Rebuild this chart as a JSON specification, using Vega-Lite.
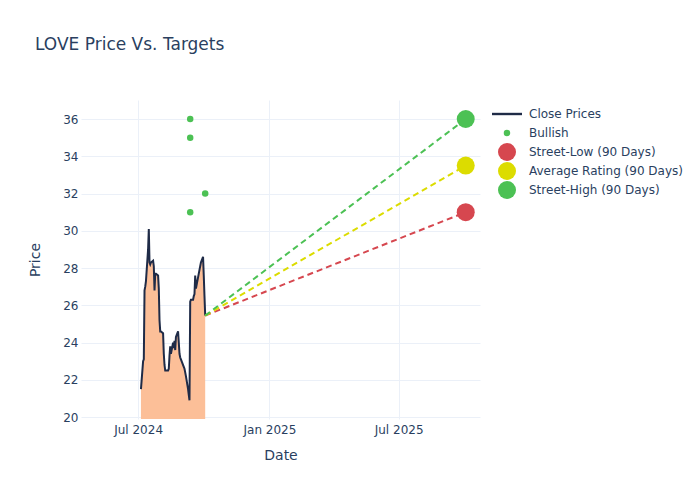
{
  "$schema": "https://vega.github.io/schema/vega-lite/v6.json",
  "width": 399,
  "height": 319,
  "autosize": {"type": "none"},
  "padding": {"left": 81, "top": 100, "right": 220, "bottom": 81},
  "background": "white",
  "title": {
    "text": "LOVE Price Vs. Targets",
    "anchor": "start",
    "frame": "group",
    "dx": -46,
    "offset": 46,
    "font": "DejaVu Sans",
    "fontSize": 17,
    "fontWeight": "normal",
    "color": "#2a3f5f"
  },
  "config": {
    "view": {"stroke": null},
    "axis": {
      "gridColor": "#ebf0f8",
      "gridWidth": 1,
      "domain": false,
      "ticks": false,
      "tickSize": 0,
      "labelFont": "DejaVu Sans",
      "labelFontSize": 12,
      "labelColor": "#2a3f5f",
      "titleFont": "DejaVu Sans",
      "titleFontSize": 14,
      "titleFontWeight": "normal",
      "titleColor": "#2a3f5f"
    },
    "legend": {
      "labelFont": "DejaVu Sans",
      "labelFontSize": 12,
      "labelColor": "#2a3f5f"
    }
  },
  "datasets": {
    "close": [
      {"date": "2024-07-05", "price": 21.5},
      {"date": "2024-07-08", "price": 23.0},
      {"date": "2024-07-09", "price": 23.1},
      {"date": "2024-07-10", "price": 26.8},
      {"date": "2024-07-11", "price": 27.0},
      {"date": "2024-07-12", "price": 27.3},
      {"date": "2024-07-15", "price": 29.0},
      {"date": "2024-07-16", "price": 30.1},
      {"date": "2024-07-17", "price": 28.3},
      {"date": "2024-07-18", "price": 28.2},
      {"date": "2024-07-19", "price": 28.3},
      {"date": "2024-07-22", "price": 28.4},
      {"date": "2024-07-23", "price": 28.1},
      {"date": "2024-07-24", "price": 26.8},
      {"date": "2024-07-25", "price": 27.7},
      {"date": "2024-07-26", "price": 27.7},
      {"date": "2024-07-29", "price": 27.6},
      {"date": "2024-07-30", "price": 26.9},
      {"date": "2024-07-31", "price": 25.2},
      {"date": "2024-08-01", "price": 24.6},
      {"date": "2024-08-02", "price": 24.6},
      {"date": "2024-08-05", "price": 24.5},
      {"date": "2024-08-06", "price": 23.4},
      {"date": "2024-08-07", "price": 22.8},
      {"date": "2024-08-08", "price": 22.5},
      {"date": "2024-08-09", "price": 22.5},
      {"date": "2024-08-12", "price": 22.5},
      {"date": "2024-08-13", "price": 22.6},
      {"date": "2024-08-14", "price": 23.3},
      {"date": "2024-08-15", "price": 23.8},
      {"date": "2024-08-16", "price": 23.4},
      {"date": "2024-08-19", "price": 24.0},
      {"date": "2024-08-20", "price": 23.7},
      {"date": "2024-08-21", "price": 24.1},
      {"date": "2024-08-22", "price": 23.6},
      {"date": "2024-08-23", "price": 24.3},
      {"date": "2024-08-26", "price": 24.6},
      {"date": "2024-08-27", "price": 24.0},
      {"date": "2024-08-28", "price": 23.4},
      {"date": "2024-08-29", "price": 23.2},
      {"date": "2024-08-30", "price": 23.1},
      {"date": "2024-09-03", "price": 22.7},
      {"date": "2024-09-04", "price": 22.6},
      {"date": "2024-09-05", "price": 22.4},
      {"date": "2024-09-06", "price": 22.2},
      {"date": "2024-09-09", "price": 21.5},
      {"date": "2024-09-10", "price": 21.2},
      {"date": "2024-09-11", "price": 20.9},
      {"date": "2024-09-12", "price": 26.2},
      {"date": "2024-09-13", "price": 26.3},
      {"date": "2024-09-16", "price": 26.3},
      {"date": "2024-09-17", "price": 26.5},
      {"date": "2024-09-18", "price": 26.6},
      {"date": "2024-09-19", "price": 27.6},
      {"date": "2024-09-20", "price": 26.9},
      {"date": "2024-09-23", "price": 27.5},
      {"date": "2024-09-24", "price": 27.7},
      {"date": "2024-09-25", "price": 27.9},
      {"date": "2024-09-26", "price": 28.1},
      {"date": "2024-09-27", "price": 28.3},
      {"date": "2024-09-30", "price": 28.6},
      {"date": "2024-10-01", "price": 27.6},
      {"date": "2024-10-02", "price": 26.5},
      {"date": "2024-10-03", "price": 25.45}
    ],
    "projections": [
      {"date": "2024-10-03", "price": 25.45, "series": "Street-Low (90 Days)"},
      {"date": "2025-10-03", "price": 31, "series": "Street-Low (90 Days)"},
      {"date": "2024-10-03", "price": 25.45, "series": "Average Rating (90 Days)"},
      {"date": "2025-10-03", "price": 33.5, "series": "Average Rating (90 Days)"},
      {"date": "2024-10-03", "price": 25.45, "series": "Street-High (90 Days)"},
      {"date": "2025-10-03", "price": 36, "series": "Street-High (90 Days)"}
    ],
    "points": [
      {"date": "2025-10-03", "price": 31, "series": "Street-Low (90 Days)"},
      {"date": "2025-10-03", "price": 33.5, "series": "Average Rating (90 Days)"},
      {"date": "2025-10-03", "price": 36, "series": "Street-High (90 Days)"},
      {"date": "2024-09-12", "price": 31, "series": "Bullish"},
      {"date": "2024-09-12", "price": 35, "series": "Bullish"},
      {"date": "2024-09-12", "price": 36, "series": "Bullish"},
      {"date": "2024-10-03", "price": 32, "series": "Bullish"}
    ]
  },
  "encoding": {
    "x": {
      "field": "date",
      "type": "temporal",
      "title": "Date",
      "scale": {
        "type": "utc",
        "domain": [
          {"year": 2024, "month": 4, "date": 12, "utc": true},
          {"year": 2025, "month": 10, "date": 23, "utc": true}
        ],
        "nice": false
      },
      "axis": {
        "values": [
          {"year": 2024, "month": 7, "date": 1, "utc": true},
          {"year": 2025, "month": 1, "date": 1, "utc": true},
          {"year": 2025, "month": 7, "date": 1, "utc": true}
        ],
        "format": "%b %Y",
        "labelPadding": 5,
        "titlePadding": 13,
        "labelFlush": false
      }
    },
    "y": {
      "field": "price",
      "type": "quantitative",
      "title": "Price",
      "scale": {"domain": [19.9, 37.02], "zero": false, "nice": false},
      "axis": {
        "values": [20, 22, 24, 26, 28, 30, 32, 34, 36],
        "labelPadding": 3,
        "titlePadding": 20
      }
    }
  },
  "layer": [
    {
      "data": {"name": "close"},
      "mark": {"type": "area", "color": "#fcbf98", "opacity": 1, "clip": true}
    },
    {
      "data": {"name": "close"},
      "mark": {"type": "line", "color": "#1f2b47", "strokeWidth": 2, "clip": true}
    },
    {
      "data": {"name": "projections"},
      "mark": {"type": "line", "strokeDash": [6, 4], "strokeWidth": 2, "clip": true},
      "encoding": {
        "stroke": {
          "field": "series",
          "type": "nominal",
          "scale": {
            "domain": ["Street-Low (90 Days)", "Average Rating (90 Days)", "Street-High (90 Days)"],
            "range": ["#d6474f", "#dcdc00", "#4cc154"]
          },
          "legend": null
        }
      }
    },
    {
      "data": {"name": "points"},
      "mark": {"type": "point", "filled": true, "opacity": 1, "strokeWidth": 0},
      "encoding": {
        "color": {
          "field": "series",
          "type": "nominal",
          "scale": {
            "domain": ["Close Prices", "Bullish", "Street-Low (90 Days)", "Average Rating (90 Days)", "Street-High (90 Days)"],
            "range": ["#1f2b47", "#4cc154", "#d6474f", "#dcdc00", "#4cc154"]
          },
          "legend": {
            "title": null,
            "orient": "none",
            "legendX": 410,
            "legendY": 5,
            "labelOffset": 6,
            "rowPadding": 1,
            "clipHeight": 18
          }
        },
        "size": {
          "field": "series",
          "type": "nominal",
          "scale": {
            "type": "ordinal",
            "domain": ["Close Prices", "Bullish", "Street-Low (90 Days)", "Average Rating (90 Days)", "Street-High (90 Days)"],
            "range": [900, 42, 324, 324, 324]
          },
          "legend": {"title": null}
        },
        "shape": {
          "field": "series",
          "type": "nominal",
          "scale": {
            "domain": ["Close Prices", "Bullish", "Street-Low (90 Days)", "Average Rating (90 Days)", "Street-High (90 Days)"],
            "range": ["M-1,-0.08H1V0.08H-1Z", "circle", "circle", "circle", "circle"]
          },
          "legend": {"title": null}
        }
      }
    }
  ]
}
